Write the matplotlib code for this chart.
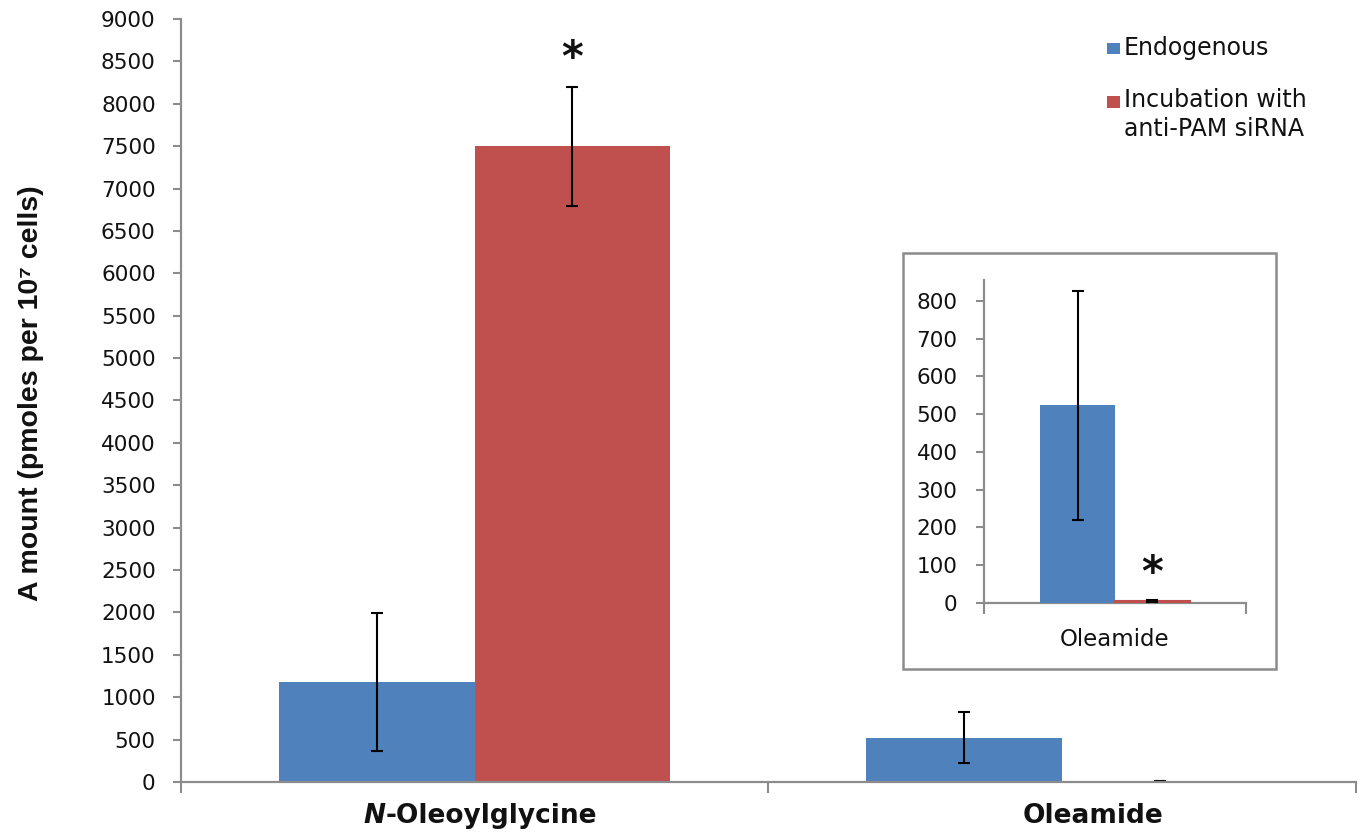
import matplotlib
matplotlib.use("Agg")
import matplotlib.pyplot as plt
from matplotlib import font_manager
from matplotlib.patches import Rectangle
import numpy as np

# ---- data -------------------------------------------------------------
categories = ["N-Oleoylglycine", "Oleamide"]
series_labels = ["Endogenous", "Incubation with\nanti-PAM siRNA"]
endogenous = [1180, 523]
endogenous_err = [810, 303]
sirna = [7500, 6]
sirna_err = [700, 3]
main_yticks = list(range(0, 9001, 500))
inset_yticks = list(range(0, 801, 100))
inset_category = "Oleamide"

# ---- style ------------------------------------------------------------
BLUE = "#4F81BD"
RED = "#C0504D"
GRAY = "#8C8C8C"
TXT = "#111111"

available = {f.name for f in font_manager.fontManager.ttflist}
narrow = "Liberation Sans Narrow" if "Liberation Sans Narrow" in available else "Liberation Sans"
ylabel_size = 24.5 if narrow == "Liberation Sans Narrow" else 20.5

plt.rcParams["font.family"] = ["DejaVu Sans"]

W, H = 1361, 835
fig = plt.figure(figsize=(W / 100, H / 100), dpi=100)


def fx(px):
    return px / W


def fy(py):
    return 1 - py / H


err_style = dict(elinewidth=1.5, capthick=1.5, ecolor="black", zorder=2.2)

# ---- main axes --------------------------------------------------------
ax = fig.add_axes([fx(180.7), fy(782), fx(1356) - fx(180.7), fy(19) - fy(782)])
x = np.arange(len(categories))
width = 1 / 3
ax.bar(x - width / 2, endogenous, width, color=BLUE, yerr=endogenous_err,
       capsize=4.5, error_kw=err_style, zorder=2)
ax.bar(x + width / 2, sirna, width, color=RED, yerr=sirna_err,
       capsize=4.5, error_kw=err_style, zorder=2)
ax.set_xlim(-0.5, len(categories) - 0.5)
ax.set_ylim(0, 9000)
ax.set_yticks(main_yticks)
ax.set_xticks(np.arange(len(categories) + 1) - 0.5)
ax.set_xticklabels([])
ax.tick_params(axis="x", length=8, width=1.5, color=GRAY, direction="out")
ax.tick_params(axis="y", length=6, width=1.5, color=GRAY, direction="out",
               pad=12, labelsize=15.5, labelcolor=TXT)
for s in ("top", "right"):
    ax.spines[s].set_visible(False)
for s in ("left", "bottom"):
    ax.spines[s].set_color(GRAY)
    ax.spines[s].set_linewidth(1.6)
    ax.spines[s].set_zorder(3)

# significance mark above the siRNA bar
ax.annotate("*", xy=(x[0] + width / 2, sirna[0] + sirna_err[0]),
            xytext=(0, 28), textcoords="offset pixels",
            ha="center", va="center", fontsize=30, fontweight="bold", color=TXT)

# category labels (italic N on the first one)
lab_kw = dict(xycoords=("data", "axes fraction"), textcoords="offset pixels",
              va="center", fontsize=19, fontweight="bold", color=TXT)
rest = ax.annotate(categories[0][1:], xy=(x[0], 0), xytext=(0, -34), ha="left", **lab_kw)
n_lab = ax.annotate(categories[0][0], xy=(0, 0.5), xycoords=rest, ha="right",
                    va="center", fontsize=19, fontweight="bold", style="italic", color=TXT)
ax.annotate(categories[1], xy=(x[1], 0), xytext=(31, -34), ha="center", **lab_kw)

fig.canvas.draw()
w_n = n_lab.get_window_extent().width
w_r = rest.get_window_extent().width
rest.set_position((6 - (w_r - w_n) / 2, -34))

# y-axis title
fig.text(fx(31), fy(393), "A mount (pmoles per 10\u2077 cells)", rotation=90,
         ha="center", va="center", fontsize=ylabel_size, fontweight="bold",
         family=[narrow, "DejaVu Sans"], color=TXT)

# legend
leg_colors = [BLUE, RED]
leg_y = [48.5, 102]
for c, lab, yy in zip(leg_colors, series_labels, leg_y):
    fig.add_artist(Rectangle((fx(1107), fy(yy + 5.5)), fx(13), 11 / H,
                             transform=fig.transFigure, facecolor=c, edgecolor="none"))
    if "\n" in lab:
        fig.text(fx(1124), fy(yy - 14), lab, ha="left", va="top",
                 fontsize=17, color=TXT, linespacing=1.25)
    else:
        fig.text(fx(1124), fy(yy), lab, ha="left", va="center",
                 fontsize=17, color=TXT)

# ---- inset ------------------------------------------------------------
fig.add_artist(Rectangle((fx(903), fy(669)), fx(1276) - fx(903), (669 - 253) / H,
                         transform=fig.transFigure, fill=False, edgecolor=GRAY,
                         linewidth=1.8, zorder=5))

axi = fig.add_axes([fx(984), fy(603), fx(1246) - fx(984), fy(280) - fy(603)])
axi.set_zorder(6)
axi.patch.set_alpha(0)
iw = 0.286
k = categories.index(inset_category)
inset_err = dict(err_style, zorder=4)
axi.bar([-iw / 2], [endogenous[k]], iw, color=BLUE, yerr=[endogenous_err[k]],
        capsize=4.5, error_kw=inset_err, zorder=3)
axi.bar([iw / 2], [sirna[k]], iw, color=RED, edgecolor=RED, linewidth=1.5,
        yerr=[sirna_err[k]], capsize=4.5, error_kw=inset_err, zorder=3)
axi.set_xlim(-0.5, 0.5)
axi.set_ylim(0, 855)
axi.set_yticks(inset_yticks)
axi.set_xticks([-0.5, 0.5])
axi.set_xticklabels([])
axi.set_xticks([0], labels=[inset_category], minor=True)
axi.tick_params(axis="x", which="major", length=8, width=1.5, color=GRAY)
axi.tick_params(axis="x", which="minor", length=0, pad=18, labelsize=16.5, labelcolor=TXT)
axi.tick_params(axis="y", length=6, width=1.5, color=GRAY, pad=13,
                labelsize=15.5, labelcolor=TXT)
for s in ("top", "right"):
    axi.spines[s].set_visible(False)
for s in ("left", "bottom"):
    axi.spines[s].set_color(GRAY)
    axi.spines[s].set_linewidth(1.6)
axi.annotate("*", xy=(iw / 2, sirna[k] + sirna_err[k]), xytext=(0, 26),
             textcoords="offset pixels", ha="center", va="center",
             fontsize=30, fontweight="bold", color=TXT)

fig.savefig("out.png", dpi=100)
